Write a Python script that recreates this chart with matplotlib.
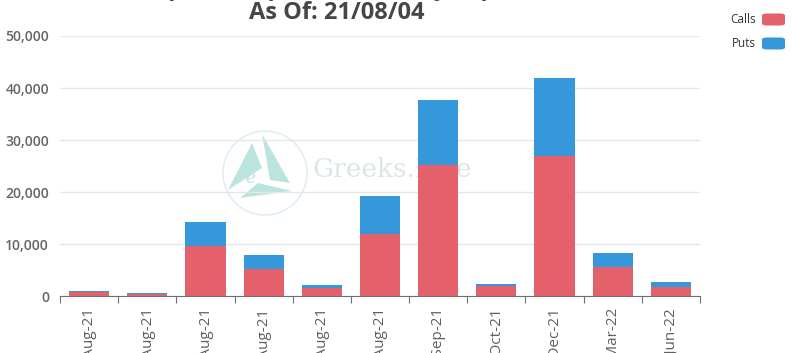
import numpy as np
import matplotlib.pyplot as plt
from matplotlib.patches import Circle, Polygon, FancyBboxPatch
from matplotlib.transforms import IdentityTransform
from matplotlib.ticker import FuncFormatter

plt.rcParams['font.family'] = ['Open Sans', 'DejaVu Sans']

expiries = ['05-Aug-21', '06-Aug-21', '07-Aug-21', '13-Aug-21', '20-Aug-21', '27-Aug-21',
            '24-Sep-21', '29-Oct-21', '31-Dec-21', '25-Mar-22', '24-Jun-22']
calls = [750, 450, 9600, 5200, 1500, 11900, 25200, 1950, 26900, 5600, 1700]
puts = [270, 130, 4600, 2600, 600, 7400, 12500, 450, 15000, 2700, 950]

CALL_COLOR = '#E4606A'
PUT_COLOR = '#3498DB'
H = 353


def px(x, y):
    # pixel position from top-left -> display coords
    return (x, H - y)


fig = plt.figure(figsize=(7.92, 3.53), dpi=100)
ax = fig.add_axes([60 / 792, 1 - 296 / H, 640 / 792, 260 / H])

x = np.arange(len(expiries))
ax.bar(x, calls, width=0.69, color=CALL_COLOR, zorder=3)
ax.bar(x, puts, width=0.69, bottom=calls, color=PUT_COLOR, zorder=3)

ax.set_xlim(-0.5, len(expiries) - 0.5)
ax.set_ylim(0, 50000)
ax.set_yticks(np.arange(0, 50001, 10000))
ax.yaxis.set_major_formatter(FuncFormatter(lambda v, p: f'{int(v):,}'))
ax.grid(axis='y', color='#e6e6e6', lw=1, zorder=0)
ax.tick_params(axis='y', length=0, pad=8, labelsize=10, labelcolor='#666666')
for lbl in ax.get_yticklabels():
    lbl.set_fontweight('semibold')

# ticks at category boundaries, labels at centres
ax.set_xticks(np.arange(-0.5, len(expiries), 1.0))
ax.set_xticklabels([])
ax.set_xticks(x, minor=True)
ax.set_xticklabels(expiries, minor=True, rotation=90, fontsize=11, color='#5f5f5f')
ax.tick_params(axis='x', which='major', length=5, color='#6e7079', direction='out')
ax.tick_params(axis='x', which='minor', length=0, pad=8)

for s in ['top', 'right', 'left']:
    ax.spines[s].set_visible(False)
ax.spines['bottom'].set_color('#6e7079')

# watermark, behind the bars
idt = IdentityTransform()
wm = '#a6dcd5'
ax.add_patch(Circle(px(265, 173), 42, transform=idt, fill=False, ec='#d9eeeb', lw=1, zorder=1))
for tri in [[(228, 190), (252, 143), (262, 168)],
            [(262, 134), (290, 183), (270, 180)],
            [(240, 198), (292, 191), (258, 183)]]:
    ax.add_patch(Polygon([px(a, b) for a, b in tri], closed=True, transform=idt,
                         fc=wm, ec='none', alpha=0.75, zorder=1))
ax.text(*px(250, 183), 'e', transform=idt, fontsize=12, family='DejaVu Serif',
        style='italic', color='#b8e2dc', ha='center', va='baseline', zorder=1)
ax.text(*px(313, 177), 'Greeks.Live', transform=idt, fontsize=19, family='DejaVu Serif',
        color='#dbe7e6', va='baseline', zorder=1)

# title (first line cropped at the top edge)
fig.text(337 / 792, 1 + 5 / H, 'BTC Options Open Interest By Expiration', ha='center', va='baseline',
         fontsize=17, fontweight='bold', color='#464646')
fig.text(337 / 792, 1 - 19 / H, 'As Of: 21/08/04', ha='center', va='baseline',
         fontsize=17, fontweight='bold', color='#464646')

# legend
for i, (name, col) in enumerate([('Calls', CALL_COLOR), ('Puts', PUT_COLOR)]):
    yc = 19.5 + i * 24
    fig.patches.append(FancyBboxPatch((762 / 792, 1 - (yc + 6) / H), 23 / 792, 12 / H,
                                      boxstyle='round,pad=0,rounding_size=0.006',
                                      transform=fig.transFigure, fc=col, ec='none'))
    fig.text(756 / 792, 1 - yc / H, name, ha='right', va='center', fontsize=8.5, color='#333333')

plt.savefig('out.png', dpi=100)
